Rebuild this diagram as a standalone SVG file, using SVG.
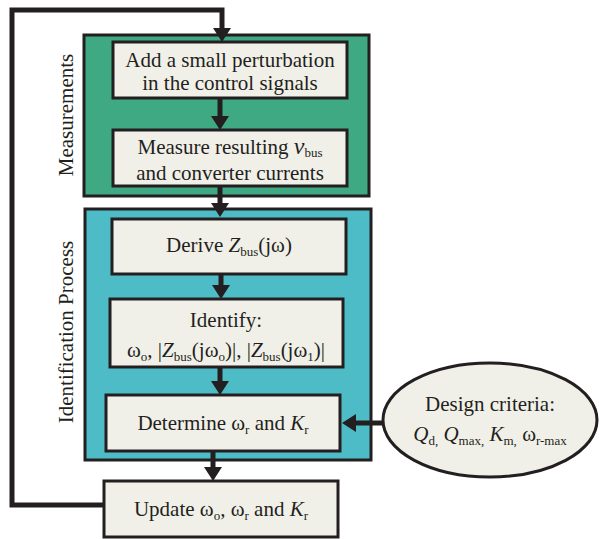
<svg xmlns="http://www.w3.org/2000/svg" width="599" height="539" viewBox="0 0 599 539">
<style>
text{font-family:"Liberation Serif","Times New Roman",serif;font-size:21px;fill:#231f20}
.c{text-anchor:middle}
.box{fill:#f1f0e8;stroke:#231f20;stroke-width:3}
.i{font-style:italic}
.s{font-size:13px}
.con{stroke:#231f20;stroke-width:5;fill:none}
.hd{fill:#231f20}
</style>
<g id="measurements">
<rect x="84" y="35" width="285" height="161" fill="#3fa983" stroke="#231f20" stroke-width="3"/>
<text class="c" transform="translate(73,115) rotate(-90)">Measurements</text>
</g>
<g id="identification">
<rect x="85" y="209" width="286" height="251" fill="#4ebcc7" stroke="#231f20" stroke-width="3"/>
<text class="c" transform="translate(73,332) rotate(-90)">Identification Process</text>
</g>
<g id="connectors">
<path class="con" d="M104,505 H12 V10 H222 V30"/>
<polygon class="hd" points="213,28 231,28 222,42"/>
<path class="con" d="M220,98 V118"/>
<polygon class="hd" points="211,116 229,116 220,130"/>
<path class="con" d="M220,186 V205"/>
<polygon class="hd" points="211,203 229,203 220,217"/>
<path class="con" d="M221,274 V287"/>
<polygon class="hd" points="212,285 230,285 221,299"/>
<path class="con" d="M220,367 V383"/>
<polygon class="hd" points="211,381 229,381 220,395"/>
<path class="con" d="M213,451 V469"/>
<polygon class="hd" points="204,467 222,467 213,481"/>
<path class="con" d="M383,423 H354"/>
<polygon class="hd" points="356,414 356,432 342,423"/>
</g>
<g id="perturb">
<rect class="box" x="113" y="42" width="234" height="56"/>
<text class="c" x="230" y="67">Add a small perturbation</text>
<text class="c" x="230" y="90">in the control signals</text>
</g>
<g id="measure">
<rect class="box" x="113" y="130" width="234" height="56"/>
<text class="c" x="230" y="154">Measure resulting <tspan class="i" font-size="24px">v</tspan><tspan class="s" dy="3">bus</tspan></text>
<text class="c" x="230" y="180">and converter currents</text>
</g>
<g id="derive">
<rect class="box" x="112" y="219" width="234" height="55"/>
<text class="c" x="229" y="252">Derive <tspan class="i">Z</tspan><tspan class="s" dy="4">bus</tspan><tspan dy="-4">(jω)</tspan></text>
</g>
<g id="identify">
<rect class="box" x="110" y="299" width="233" height="68"/>
<text class="c" x="226" y="327">Identify:</text>
<text class="c" x="226" y="357">ω<tspan class="s" dy="4">o</tspan><tspan dy="-4">, |</tspan><tspan class="i">Z</tspan><tspan class="s" dy="4">bus</tspan><tspan dy="-4">(jω</tspan><tspan class="s" dy="4">o</tspan><tspan dy="-4">)|, |</tspan><tspan class="i">Z</tspan><tspan class="s" dy="4">bus</tspan><tspan dy="-4">(jω</tspan><tspan class="s" dy="4">1</tspan><tspan dy="-4">)|</tspan></text>
</g>
<g id="determine">
<rect class="box" x="106" y="395" width="234" height="56"/>
<text class="c" x="223" y="430">Determine ω<tspan class="s" dy="4">r</tspan><tspan dy="-4"> and </tspan><tspan class="i">K</tspan><tspan class="s" dy="4">r</tspan></text>
</g>
<g id="update">
<rect class="box" x="104" y="481" width="234" height="56"/>
<text class="c" x="221" y="516">Update ω<tspan class="s" dy="4">o</tspan><tspan dy="-4">, ω</tspan><tspan class="s" dy="4">r</tspan><tspan dy="-4"> and </tspan><tspan class="i">K</tspan><tspan class="s" dy="4">r</tspan></text>
</g>
<g id="criteria">
<ellipse cx="490" cy="420" rx="107" ry="57" fill="#f1f0e8" stroke="#231f20" stroke-width="3"/>
<text class="c" x="490" y="411">Design criteria:</text>
<text class="c" x="490" y="441"><tspan class="i">Q</tspan><tspan class="s" dy="4">d,</tspan><tspan dy="-4"> </tspan><tspan class="i">Q</tspan><tspan class="s" dy="4">max,</tspan><tspan dy="-4"> </tspan><tspan class="i">K</tspan><tspan class="s" dy="4">m,</tspan><tspan dy="-4"> ω</tspan><tspan class="s" dy="4">r-max</tspan></text>
</g>
</svg>
